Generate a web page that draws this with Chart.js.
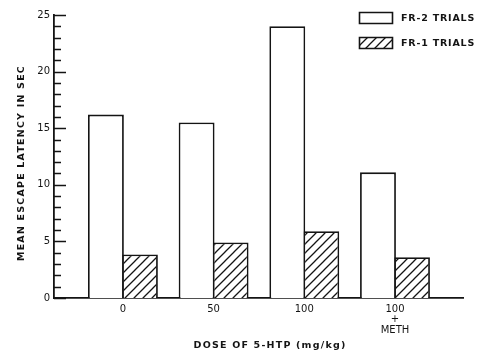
<!DOCTYPE html>
<html>
<head>
<meta charset="utf-8">
<script src="https://cdn.jsdelivr.net/npm/chart.js@4/dist/chart.umd.min.js"></script>
<style>
  html, body { margin: 0; padding: 0; background: #fff; }
  #wrap { width: 478px; height: 355px; }
</style>
</head>
<body>
<div id="wrap"><canvas id="chart" width="478" height="355"></canvas></div>
<script>
// Dose groups along the x axis (the last one is a three-line label)
const categories = ['0', '50', '100', ['100', '+', 'METH']];
// Mean escape latency (sec) per dose group
const fr2Trials = [16.2, 15.5, 24.0, 11.1];
const fr1Trials = [3.85, 4.9, 5.9, 3.6];
const seriesNames = ['FR-2 TRIALS', 'FR-1 TRIALS'];
// Labelled y ticks; minor ticks fall on every whole second
const yTickValues = [0, 5, 10, 15, 20, 25];
const xTitle = 'DOSE OF 5-HTP (mg/kg)';
const yTitle = 'MEAN ESCAPE LATENCY IN SEC';

const INK = '#141414';
const FONT = '"DejaVu Sans", sans-serif';

function makeHatch() {
  const s = 9;
  const c = document.createElement('canvas');
  c.width = s; c.height = s;
  const g = c.getContext('2d');
  g.fillStyle = '#fff';
  g.fillRect(0, 0, s, s);
  g.strokeStyle = INK;
  g.lineWidth = 1.3;
  g.beginPath();
  g.moveTo(-1, s + 1); g.lineTo(s + 1, -1);
  g.moveTo(-2, 2); g.lineTo(2, -2);
  g.moveTo(s - 2, s + 2); g.lineTo(s + 2, s - 2);
  g.stroke();
  return g.createPattern(c, 'repeat');
}
const hatch = makeHatch();

function spacedText(ctx, text, x, y, spacing) {
  if ('letterSpacing' in ctx) {
    ctx.letterSpacing = spacing + 'px';
    ctx.fillText(text, x, y);
    ctx.letterSpacing = '0px';
  } else {
    ctx.fillText(text, x, y);
  }
}

// Inward ticks on the y axis, axis titles and the legend
const decor = {
  id: 'decor',
  afterDraw(chart) {
    const { ctx, chartArea: a, scales: { y } } = chart;
    ctx.save();
    ctx.strokeStyle = INK;
    ctx.lineWidth = 1.6;
    ctx.beginPath();
    for (let v = y.min; v <= y.max; v++) {
      const py = Math.round(y.getPixelForValue(v)) + 0.5;
      const len = v % 5 === 0 ? 12 : 7;
      ctx.moveTo(a.left, py);
      ctx.lineTo(a.left + len, py);
    }
    ctx.stroke();

    ctx.fillStyle = INK;
    ctx.font = 'bold 9.5px ' + FONT;
    ctx.textBaseline = 'middle';
    ctx.textAlign = 'center';

    // y title
    ctx.save();
    ctx.translate(22, 163);
    ctx.rotate(-Math.PI / 2);
    spacedText(ctx, yTitle, 0, 0, 1.2);
    ctx.restore();

    // x title
    spacedText(ctx, xTitle, 270, 346, 1.2);

    // legend
    const fills = ['#fff', hatch];
    ctx.textAlign = 'left';
    seriesNames.forEach((name, i) => {
      const top = i === 0 ? 12 : 37;
      ctx.fillStyle = fills[i];
      ctx.strokeStyle = INK;
      ctx.lineWidth = 1.6;
      ctx.beginPath();
      ctx.rect(359.5, top + 0.5, 33, 11);
      ctx.fill();
      ctx.stroke();
      ctx.fillStyle = INK;
      spacedText(ctx, name, 401, top + 6.5, 0.8);
    });
    ctx.restore();
  }
};

const barStyle = { borderColor: INK, borderWidth: 1.8, borderSkipped: 'start' };

new Chart(document.getElementById('chart'), {
  type: 'bar',
  data: {
    datasets: [
      Object.assign({
        label: seriesNames[0],
        data: fr2Trials.map((v, i) => ({ x: i, y: v })),
        backgroundColor: '#fff'
      }, barStyle),
      Object.assign({
        label: seriesNames[1],
        data: fr1Trials.map((v, i) => ({ x: i, y: v })),
        backgroundColor: hatch
      }, barStyle)
    ]
  },
  options: {
    responsive: false,
    animation: false,
    events: [],
    categoryPercentage: 0.75,
    barPercentage: 1.055,
    layout: { padding: { left: 0, top: 15, right: 15, bottom: 0 } },
    plugins: { legend: { display: false }, tooltip: { enabled: false } },
    scales: {
      x: {
        type: 'linear',
        offset: false,
        min: -0.76,
        max: 3.75,
        afterBuildTicks: s => { s.ticks = categories.map((_, i) => ({ value: i })); },
        afterFit: s => { s.height = 57; },
        grid: { display: false, drawTicks: false, offset: false },
        border: { display: true, color: INK, width: 1.8 },
        ticks: {
          autoSkip: false,
          maxRotation: 0,
          padding: 6,
          color: INK,
          font: { family: FONT, size: 10, lineHeight: 1.05 },
          callback: v => categories[v]
        }
      },
      y: {
        min: 0,
        max: 25,
        afterBuildTicks: s => { s.ticks = yTickValues.map(v => ({ value: v })); },
        afterFit: s => { s.width = 54; },
        grid: { display: false, drawTicks: false },
        border: { display: true, color: INK, width: 1.8 },
        ticks: {
          padding: 4,
          color: INK,
          font: { family: FONT, size: 10 }
        }
      }
    }
  },
  plugins: [decor]
});
</script>
</body>
</html>
